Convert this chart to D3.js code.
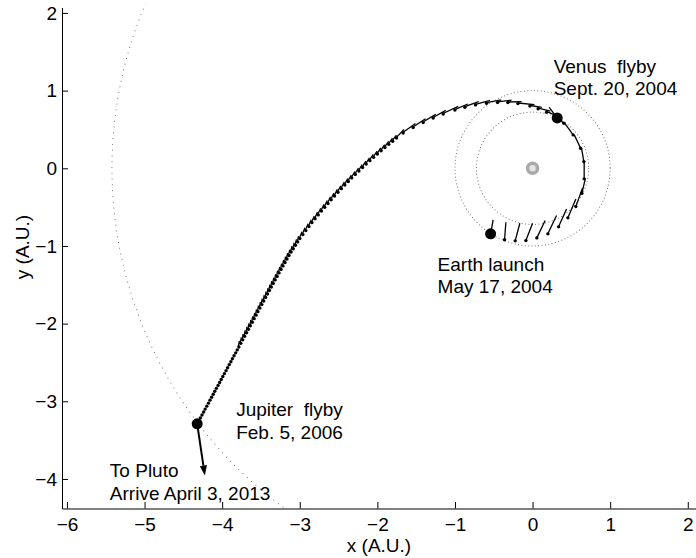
<!DOCTYPE html>
<html>
<head>
<meta charset="utf-8">
<script src="https://cdn.jsdelivr.net/npm/d3@7"></script>
<style>
  body { margin: 0; background: #fff; }
  svg { display: block; }
  text { font-family: "Liberation Sans", Arial, Helvetica, sans-serif; fill: #000; }
</style>
</head>
<body>
<svg id="chart" width="696" height="558"></svg>
<script>
// ---- Data (heliocentric ecliptic coordinates, A.U.) ----
const xTicks = [-6, -5, -4, -3, -2, -1, 0, 1, 2];
const yTicks = [-4, -3, -2, -1, 0, 1, 2];

// Planetary orbit radii: Venus, Earth, Jupiter
const orbitRadii = [0.723, 1.0, 5.42];

// Earth-to-Venus leg: samples [x, y, u, v] with their direction vectors
const launchArc = [
  [-0.541, -0.844, 0.033, 0.180],
  [-0.361, -0.921, 0.017, 0.226],
  [-0.224, -0.934, 0.060, 0.226],
  [-0.086, -0.931, 0.086, 0.223],
  [ 0.055, -0.896, 0.107, 0.223],
  [ 0.197, -0.844, 0.112, 0.235],
  [ 0.335, -0.754, 0.103, 0.231],
  [ 0.455, -0.638, 0.103, 0.244],
  [ 0.558, -0.493, 0.086, 0.241],
  [ 0.635, -0.322, 0.045, 0.189],
  [ 0.665, -0.136, 0.000, 0.220],
  [ 0.661,  0.086, -0.030, 0.170],
  [ 0.619,  0.257, -0.080, 0.170],
  [ 0.523,  0.430, -0.110, 0.150],
  [ 0.403,  0.579, -0.090, 0.070],
  [ 0.317,  0.649, -0.103, 0.136]
];

// Venus-to-Jupiter cruise samples [x, y]
const cruiseArc = [
  [0.180, 0.723], [0.072, 0.766], [-0.035, 0.801], [-0.189, 0.833], [-0.318, 0.846],
  [-0.451, 0.846], [-0.593, 0.837], [-0.735, 0.816], [-0.872, 0.785], [-1.001, 0.749],
  [-1.152, 0.698], [-1.281, 0.646], [-1.410, 0.588], [-1.539, 0.524], [-1.668, 0.453],
  [-1.753, 0.389],
  [-1.803, 0.349], [-1.853, 0.308], [-1.903, 0.267], [-1.952, 0.225], [-2.000, 0.183],
  [-2.049, 0.141], [-2.097, 0.098], [-2.144, 0.054], [-2.191, 0.010], [-2.238, -0.034],
  [-2.284, -0.079], [-2.330, -0.124], [-2.375, -0.170], [-2.420, -0.216], [-2.464, -0.262],
  [-2.508, -0.309], [-2.552, -0.357], [-2.595, -0.405], [-2.637, -0.453], [-2.679, -0.502],
  [-2.721, -0.551], [-2.762, -0.600], [-2.803, -0.650], [-2.843, -0.700], [-2.882, -0.751],
  [-2.922, -0.802], [-2.960, -0.854], [-2.999, -0.905],
  [-3.027, -0.948], [-3.056, -0.991], [-3.084, -1.035], [-3.112, -1.078], [-3.139, -1.122],
  [-3.165, -1.167], [-3.190, -1.212], [-3.216, -1.257], [-3.241, -1.302], [-3.267, -1.347],
  [-3.292, -1.392], [-3.317, -1.437], [-3.342, -1.482], [-3.367, -1.528], [-3.391, -1.573],
  [-3.416, -1.619], [-3.440, -1.664], [-3.465, -1.709], [-3.489, -1.755], [-3.514, -1.800],
  [-3.539, -1.846], [-3.563, -1.891], [-3.588, -1.936], [-3.612, -1.982], [-3.637, -2.027],
  [-3.662, -2.073], [-3.686, -2.118], [-3.711, -2.163], [-3.735, -2.209], [-3.760, -2.254],
  [-3.785, -2.300]
];

// Final approach to Jupiter [x, y]
const jupiterApproach = [
  [-3.806, -2.338], [-3.826, -2.376], [-3.847, -2.414], [-3.868, -2.452], [-3.888, -2.490],
  [-3.909, -2.528], [-3.930, -2.567], [-3.950, -2.605], [-3.971, -2.643], [-3.992, -2.681],
  [-4.012, -2.719], [-4.033, -2.757], [-4.053, -2.795], [-4.074, -2.833], [-4.095, -2.871],
  [-4.115, -2.909], [-4.136, -2.947], [-4.157, -2.985], [-4.177, -3.024], [-4.198, -3.062],
  [-4.219, -3.100], [-4.239, -3.138], [-4.260, -3.176], [-4.281, -3.214], [-4.301, -3.252]
];

// Mission events
const eventNames = ["Earth launch", "Venus  flyby", "Jupiter  flyby", "To Pluto"];
const eventDates = ["May 17, 2004", "Sept. 20, 2004", "Feb. 5, 2006", "Arrive April 3, 2013"];
const eventX = [-0.541, 0.317, -4.322, -4.223];
const eventY = [-0.844, 0.649, -3.290, -3.955];

// ---- Layout ----
const plot = { left: 62, right: 696, top: 7.5, bottom: 508.5 };
const FONT = "'Liberation Sans', Arial, Helvetica, sans-serif";

const x = d3.scaleLinear().domain([-6.064, 2.106]).range([plot.left, plot.right]);
const y = d3.scaleLinear().domain([-4.38, 2.07]).range([plot.bottom, plot.top]);

const svg = d3.select("#chart");

svg.append("defs").append("clipPath").attr("id", "plotClip")
  .append("rect")
  .attr("x", plot.left).attr("y", plot.top - 3)
  .attr("width", plot.right - plot.left).attr("height", plot.bottom - plot.top + 3);

const g = svg.append("g").attr("clip-path", "url(#plotClip)");

// Orbits (dotted)
const orbitSpacing = [3.4, 3.4, 5.8];
g.selectAll("ellipse.orbit").data(orbitRadii).join("ellipse")
  .attr("class", "orbit")
  .attr("cx", x(0)).attr("cy", y(0))
  .attr("rx", r => x(r) - x(0))
  .attr("ry", r => y(0) - y(r))
  .attr("fill", "none")
  .attr("stroke", "#555")
  .attr("stroke-width", 1)
  .attr("stroke-linecap", "round")
  .attr("stroke-dasharray", (r, i) => `0 ${orbitSpacing[i]}`);

// Sun
g.append("circle")
  .attr("cx", x(0)).attr("cy", y(0)).attr("r", 5)
  .attr("fill", "#e4e4e4").attr("stroke", "#aaaaaa").attr("stroke-width", 3.5);

// Earth-to-Venus direction vectors
g.selectAll("line.launchVec").data(launchArc).join("line")
  .attr("class", "launchVec")
  .attr("x1", d => x(d[0])).attr("y1", d => y(d[1]))
  .attr("x2", d => x(d[0] + d[2])).attr("y2", d => y(d[1] + d[3]))
  .attr("stroke", "#000").attr("stroke-width", 1.3);

// Cruise tails: each sample trails back past the previous one, lifted off the track
const liftStart = 0.6, liftEnd = 2.4, tailOvershoot = 0.35;
const venusPt = launchArc[launchArc.length - 1];
g.selectAll("line.cruiseVec").data(cruiseArc).join("line")
  .attr("class", "cruiseVec")
  .each(function (p, i) {
    const prev = i === 0 ? venusPt : cruiseArc[i - 1];
    const px = x(p[0]), py = y(p[1]);
    const qx = x(prev[0]), qy = y(prev[1]);
    const dx = qx - px, dy = qy - py;
    const len = Math.hypot(dx, dy) || 1;
    const nx = dy / len, ny = -dx / len; // screen-left normal of the backward direction
    d3.select(this)
      .attr("x1", px + nx * liftStart).attr("y1", py + ny * liftStart)
      .attr("x2", qx + dx * tailOvershoot + nx * liftEnd)
      .attr("y2", qy + dy * tailOvershoot + ny * liftEnd);
  })
  .attr("stroke", "#000").attr("stroke-width", 1.3);

// Sample points
const samples = launchArc.map(d => [d[0], d[1]]).concat(cruiseArc, jupiterApproach);
g.selectAll("circle.sample").data(samples).join("circle")
  .attr("class", "sample")
  .attr("cx", d => x(d[0])).attr("cy", d => y(d[1]))
  .attr("r", 1.7).attr("fill", "#000");

// Departure toward Pluto
const jx = x(eventX[2]), jy = y(eventY[2]);
const tx = x(eventX[3]), ty = y(eventY[3]);
const ang = Math.atan2(ty - jy, tx - jx);
const headLen = 10, headHalf = 3.6;
const bx = tx - headLen * Math.cos(ang), by = ty - headLen * Math.sin(ang);
g.append("line")
  .attr("x1", jx).attr("y1", jy).attr("x2", bx).attr("y2", by)
  .attr("stroke", "#000").attr("stroke-width", 2);
g.append("path")
  .attr("d", `M${tx},${ty}L${bx - headHalf * Math.sin(ang)},${by + headHalf * Math.cos(ang)}L${bx + headHalf * Math.sin(ang)},${by - headHalf * Math.cos(ang)}Z`)
  .attr("fill", "#000");

// Launch / flyby markers
g.selectAll("circle.event").data([0, 1, 2]).join("circle")
  .attr("class", "event")
  .attr("cx", i => x(eventX[i])).attr("cy", i => y(eventY[i]))
  .attr("r", 5.5).attr("fill", "#000");

// Event annotations (offsets from each event point, in px)
const labelOffset = [[-53, 37], [-3.5, -45], [39, -7.5], [-95, 2]];
const lineGap = 22.5;
eventNames.forEach((name, i) => {
  const lx = x(eventX[i]) + labelOffset[i][0];
  const ly = y(eventY[i]) + labelOffset[i][1];
  const t = svg.append("text")
    .attr("x", lx).attr("y", ly)
    .attr("font-size", 19)
    .style("white-space", "pre");
  t.append("tspan").attr("x", lx).attr("y", ly).text(name);
  t.append("tspan").attr("x", lx).attr("y", ly + lineGap).text(eventDates[i]);
});

// Axes (ticks point inward)
const xAxis = d3.axisBottom(x).tickValues(xTicks).tickFormat(d3.format("d"))
  .tickSizeInner(-6.5).tickSizeOuter(0).tickPadding(9);
const yAxis = d3.axisLeft(y).tickValues(yTicks).tickFormat(d3.format("d"))
  .tickSizeInner(-6).tickSizeOuter(0).tickPadding(5);

const gx = svg.append("g").attr("transform", `translate(0,${plot.bottom})`).call(xAxis);
const gy = svg.append("g").attr("transform", `translate(${plot.left},0)`).call(yAxis);
[gx, gy].forEach(ax => {
  ax.select(".domain").attr("stroke", "#000").attr("stroke-width", 1);
  ax.selectAll(".tick line").attr("stroke", "#000").attr("stroke-width", 1);
  ax.selectAll(".tick text")
    .attr("font-family", FONT)
    .attr("font-size", 19).attr("fill", "#000");
});

// Axis titles
svg.append("text")
  .attr("x", (plot.left + plot.right) / 2).attr("y", 551.5)
  .attr("text-anchor", "middle").attr("font-size", 19)
  .text("x (A.U.)");
svg.append("text")
  .attr("transform", "translate(28.5,247) rotate(-90)")
  .attr("text-anchor", "middle").attr("font-size", 19)
  .text("y (A.U.)");
</script>
</body>
</html>
